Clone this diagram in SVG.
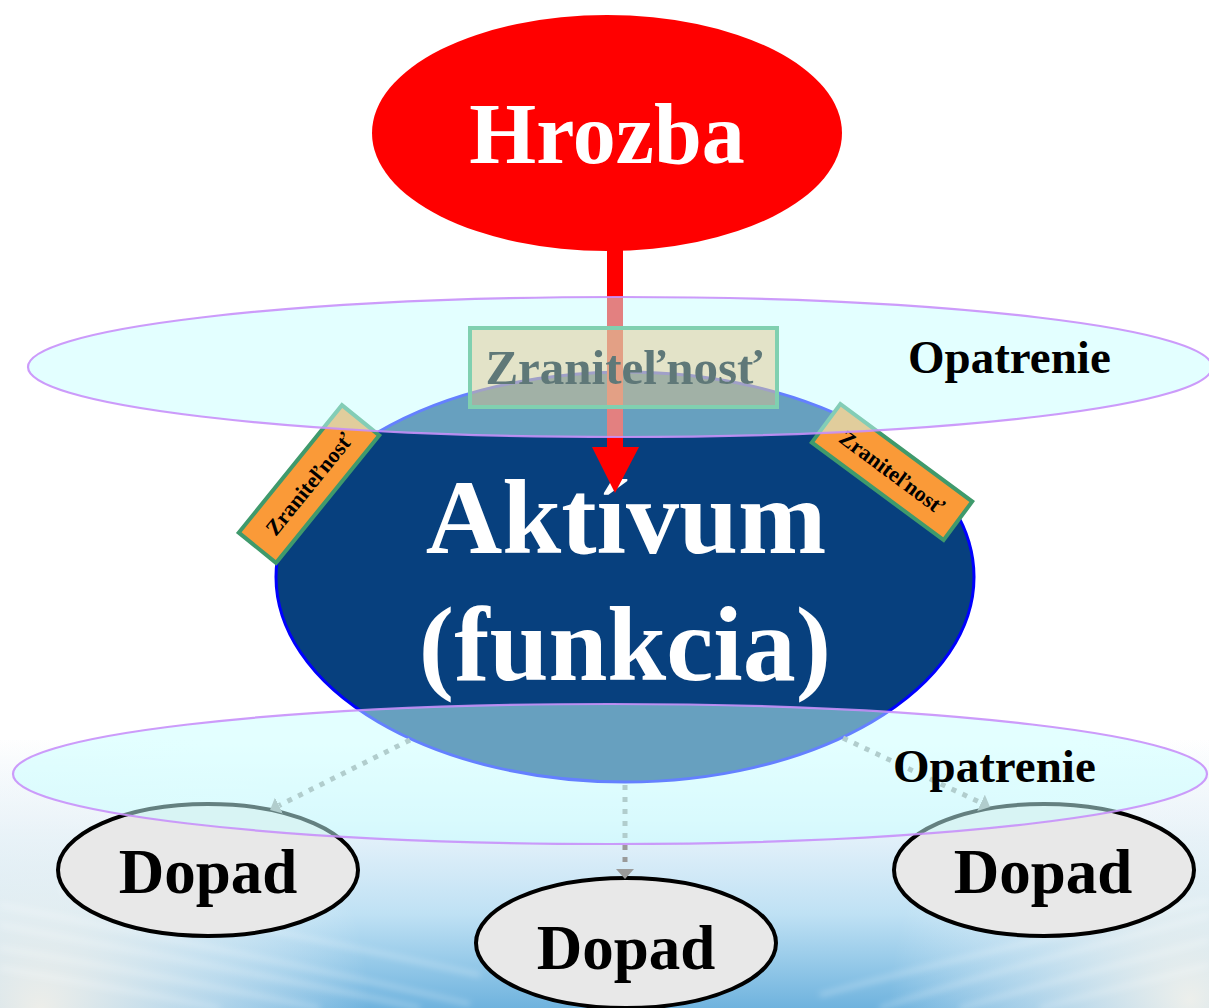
<svg xmlns="http://www.w3.org/2000/svg" width="1209" height="1008" viewBox="0 0 1209 1008">
  <defs>
    <linearGradient id="sky" x1="0" y1="740" x2="0" y2="1008" gradientUnits="userSpaceOnUse">
      <stop offset="0" stop-color="#ffffff"/>
      <stop offset="0.3" stop-color="#eaf4fb"/>
      <stop offset="0.65" stop-color="#bfe1f4"/>
      <stop offset="1" stop-color="#6fb3de"/>
    </linearGradient>
    <radialGradient id="hazeLeft" cx="40" cy="1010" r="330" gradientUnits="userSpaceOnUse">
      <stop offset="0" stop-color="#f4f1ea" stop-opacity="0.95"/>
      <stop offset="0.55" stop-color="#eef4f6" stop-opacity="0.5"/>
      <stop offset="1" stop-color="#ffffff" stop-opacity="0"/>
    </radialGradient>
    <radialGradient id="hazeRight" cx="1190" cy="1000" r="300" gradientUnits="userSpaceOnUse">
      <stop offset="0" stop-color="#f3f2ec" stop-opacity="0.95"/>
      <stop offset="0.55" stop-color="#eef4f6" stop-opacity="0.45"/>
      <stop offset="1" stop-color="#ffffff" stop-opacity="0"/>
    </radialGradient>
    <filter id="soft" x="-10%" y="-50%" width="120%" height="200%">
      <feGaussianBlur stdDeviation="3"/>
    </filter>
    <marker id="dotHead" markerUnits="userSpaceOnUse" markerWidth="10" markerHeight="18" refX="0" refY="9" orient="auto">
      <path d="M0,0 L10,9 L0,18 z" fill="#9a9a9a"/>
    </marker>
    <style>
      .serif { font-family: "Liberation Serif", "Times New Roman", serif; font-weight: bold; }
      .layer { fill: #c8ffff; fill-opacity: 0.5; stroke: #c890fa; stroke-opacity: 0.9; stroke-width: 2.2; }
      .dopad { fill: #e8e8e8; stroke: #000000; stroke-width: 4; }
      .tag { fill: #fa9a38; stroke: #3f9a6c; stroke-width: 4; }
      .dotted { fill: none; stroke: #9a9a9a; stroke-width: 5; stroke-dasharray: 5 7; }
    </style>
  </defs>

  <!-- backdrop: white sheet with a hazy sea/sky band along the bottom -->
  <g id="backdrop">
    <rect x="0" y="0" width="1209" height="1008" fill="#ffffff"/>
    <rect x="0" y="740" width="1209" height="268" fill="url(#sky)"/>
    <rect x="0" y="740" width="1209" height="268" fill="url(#hazeLeft)"/>
    <rect x="0" y="740" width="1209" height="268" fill="url(#hazeRight)"/>
    <g filter="url(#soft)" stroke="#ffffff" fill="none" stroke-opacity="0.3" stroke-width="4">
      <path d="M0,905 C150,935 300,965 470,1004"/>
      <path d="M0,925 C140,952 280,978 420,1008"/>
      <path d="M0,948 C110,966 220,988 320,1008"/>
      <path d="M0,968 C80,982 160,996 220,1008"/>
      <path d="M60,890 C200,915 330,942 480,975"/>
      <path d="M880,1008 C980,975 1100,945 1209,915"/>
      <path d="M960,1008 C1040,985 1130,962 1209,940"/>
      <path d="M1040,1008 C1100,992 1160,978 1209,965"/>
      <path d="M820,995 C930,965 1060,935 1209,900"/>
    </g>
  </g>

  <g id="hrozba">
    <ellipse cx="607" cy="133" rx="235" ry="118" fill="#ff0000"/>
    <text class="serif" x="607" y="163" font-size="86" fill="#ffffff" text-anchor="middle">Hrozba</text>
  </g>

  <g id="aktivum">
    <ellipse cx="625" cy="577" rx="349" ry="205" fill="#07407e" stroke="#0000ff" stroke-width="3"/>
    <text class="serif" x="626" y="553" font-size="106" fill="#ffffff" text-anchor="middle">Aktívum</text>
    <text class="serif" x="625" y="680" font-size="106" fill="#ffffff" text-anchor="middle">(funkcia)</text>
  </g>

  <g id="zranitelnost-left" transform="translate(309,484) rotate(-51)">
    <rect class="tag" x="-82" y="-24" width="164" height="48"/>
    <text class="serif" x="0" y="7.5" font-size="22" fill="#000000" text-anchor="middle">Zraniteľnosť</text>
  </g>

  <g id="zranitelnost-right" transform="translate(892,472) rotate(36.5)">
    <rect class="tag" x="-82" y="-24" width="164" height="48"/>
    <text class="serif" x="0" y="7.5" font-size="22" fill="#000000" text-anchor="middle">Zraniteľnosť</text>
  </g>

  <g id="dopad-left">
    <ellipse class="dopad" cx="208" cy="870" rx="150" ry="66"/>
    <text class="serif" x="208" y="893" font-size="63" fill="#000000" text-anchor="middle">Dopad</text>
  </g>

  <g id="dopad-middle">
    <ellipse class="dopad" cx="626" cy="943" rx="150" ry="65"/>
    <text class="serif" x="626" y="969" font-size="63" fill="#000000" text-anchor="middle">Dopad</text>
  </g>

  <g id="dopad-right">
    <ellipse class="dopad" cx="1044" cy="870" rx="150" ry="66"/>
    <text class="serif" x="1043" y="893" font-size="63" fill="#000000" text-anchor="middle">Dopad</text>
  </g>

  <g id="connectors">
    <!-- threat strikes the asset -->
    <rect x="607" y="250" width="16" height="198" fill="#ff0000"/>
    <polygon points="592,447 639,447 615,493" fill="#ff0000"/>
    <!-- asset spreads into impacts -->
    <path class="dotted" d="M410,740 L279,805.5" marker-end="url(#dotHead)"/>
    <path class="dotted" d="M625,785 L625,869" marker-end="url(#dotHead)"/>
    <path class="dotted" d="M843,738 L981,802.8" marker-end="url(#dotHead)"/>
  </g>

  <g id="opatrenie-top">
    <ellipse class="layer" cx="620" cy="367" rx="592" ry="70"/>
    <text class="serif" x="908" y="373" font-size="47" fill="#000000">Opatrenie</text>
  </g>

  <g id="opatrenie-bottom">
    <ellipse class="layer" cx="610" cy="774" rx="597" ry="70"/>
    <text class="serif" x="893" y="782" font-size="47" fill="#000000">Opatrenie</text>
  </g>

  <g id="zranitelnost-top">
    <rect x="470" y="328" width="307" height="79" fill="#e4c48a" fill-opacity="0.47" stroke="#80d0b0" stroke-width="4"/>
    <text class="serif" x="624" y="384" font-size="49" fill="#5f7878" text-anchor="middle">Zraniteľnosť</text>
  </g>
</svg>
